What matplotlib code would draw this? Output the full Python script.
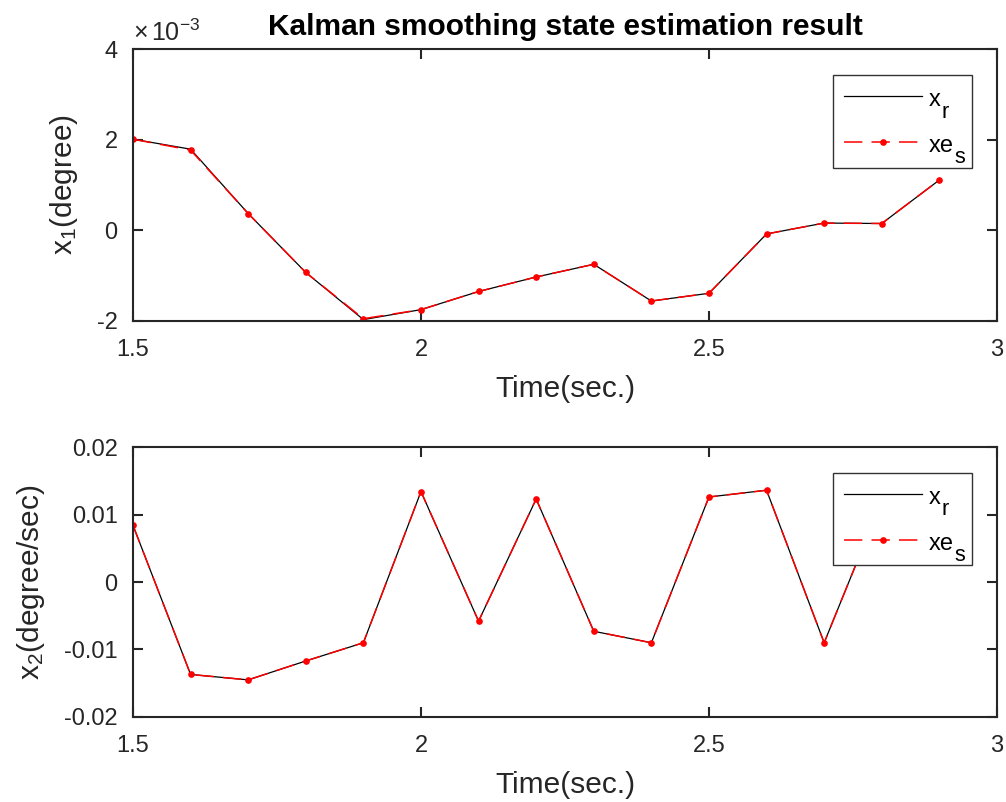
import matplotlib
matplotlib.use("Agg")
import matplotlib.pyplot as plt
from matplotlib.ticker import FuncFormatter
from matplotlib.font_manager import FontProperties

plt.rcParams['font.family'] = ['Liberation Sans', 'DejaVu Sans']
plt.rcParams['mathtext.fontset'] = 'custom'
plt.rcParams['mathtext.rm'] = 'Liberation Sans'
plt.rcParams['mathtext.it'] = 'Liberation Sans'
plt.rcParams['mathtext.bf'] = 'Liberation Sans:bold'
plt.rcParams['axes.unicode_minus'] = False

# 时间
t = [1.5, 1.6, 1.7, 1.8, 1.9, 2.0, 2.1, 2.2, 2.3, 2.4, 2.5, 2.6, 2.7, 2.8, 2.9]

# 状态1 (degree)
x1_r = [2.01e-3, 1.79e-3, 0.37e-3, -0.93e-3, -1.97e-3, -1.75e-3, -1.35e-3, -1.03e-3,
        -0.75e-3, -1.56e-3, -1.39e-3, -0.08e-3, 0.16e-3, 0.15e-3, 1.11e-3]
x1_s = [2.01e-3, 1.77e-3, 0.37e-3, -0.93e-3, -1.95e-3, -1.75e-3, -1.35e-3, -1.03e-3,
        -0.75e-3, -1.56e-3, -1.39e-3, -0.08e-3, 0.16e-3, 0.15e-3, 1.11e-3]

# 状态2 (degree/sec)
x2_r = [0.0084, -0.0137, -0.0145, -0.0117, -0.0090, 0.0134, -0.0058, 0.0123,
        -0.0073, -0.0090, 0.0126, 0.0136, -0.0090, 0.0120, 0.0050]
x2_s = [0.0084, -0.0137, -0.0145, -0.0117, -0.0090, 0.0134, -0.0058, 0.0123,
        -0.0073, -0.0090, 0.0126, 0.0136, -0.0090, 0.0120, 0.0050]

# 图例文字 (主体, 下标)
leg_main = ['x', 'xe']
leg_sub = ['r', 's']

xticks = [1.5, 2, 2.5, 3]
y1ticks = [-2e-3, 0, 2e-3, 4e-3]
y2ticks = [-0.02, -0.01, 0, 0.01, 0.02]

fig = plt.figure(figsize=(10.06, 8.02), dpi=100)
ax1 = fig.add_axes([0.1322, 0.5998, 0.8588, 0.3391])
ax2 = fig.add_axes([0.1322, 0.1060, 0.8588, 0.3366])

axcol = '#262626'
tick_fs = 17
label_fs = 21.5
legends = []


def style(ax):
    for s in ax.spines.values():
        s.set_color(axcol)
        s.set_linewidth(1.5)
    ax.tick_params(direction='in', length=7, width=1.5, colors=axcol,
                   labelsize=tick_fs, top=True, right=True)
    ax.tick_params(axis='x', pad=13)
    ax.tick_params(axis='y', pad=11)
    ax.set_xlim(1.5, 3)
    ax.set_xticks(xticks)
    ax.xaxis.set_major_formatter(FuncFormatter(lambda v, p: '%g' % v))
    ax.set_xlabel('Time(sec.)', fontsize=label_fs, color=axcol, labelpad=10)


def draw(ax, xr, xs):
    l1, = ax.plot(t, xr, color='black', lw=0.9)
    l2, = ax.plot(t, xs, color='red', lw=1.1, dashes=(12, 6), marker='o',
                  markersize=3.8)
    # expand 模式: 固定图例宽度, 给下标留位置
    leg = ax.legend([l1, l2], leg_main, loc='upper right',
                    bbox_to_anchor=(0.8102, 0.5, 0.1609, 0.404), mode='expand',
                    fontsize=tick_fs, fancybox=False, framealpha=1,
                    edgecolor='#333333', handlelength=3.3, handleheight=1.25,
                    borderpad=0.45, labelspacing=0.86, handletextpad=0.3,
                    borderaxespad=0)
    leg.get_frame().set_linewidth(1.0)
    legends.append(leg)


draw(ax1, x1_r, x1_s)
style(ax1)
ax1.set_ylim(-2e-3, 4e-3)
ax1.set_yticks(y1ticks)
ax1.yaxis.set_major_formatter(FuncFormatter(lambda v, p: '%g' % round(v * 1e3, 6)))
ax1.set_ylabel(r'$\mathregular{x_1}$(degree)', fontsize=label_fs, color=axcol, labelpad=12)
ax1.text(0.0, 1.01, r'$\mathregular{\times\,10^{-3}}$', transform=ax1.transAxes,
         fontsize=18, color=axcol, ha='left', va='bottom')
ax1.set_title('Kalman smoothing state estimation result', fontsize=21.5,
              fontweight='bold', pad=10)

draw(ax2, x2_r, x2_s)
style(ax2)
ax2.set_ylim(-0.02, 0.02)
ax2.set_yticks(y2ticks)
ax2.yaxis.set_major_formatter(FuncFormatter(lambda v, p: '%g' % round(v, 6)))
ax2.set_ylabel(r'$\mathregular{x_2}$(degree/sec)', fontsize=label_fs, color=axcol, labelpad=12)

# 手动放置图例下标 (MATLAB 风格, 下沉较多)
fig.canvas.draw()
r = fig.canvas.get_renderer()
fp = FontProperties(family=['Liberation Sans', 'DejaVu Sans'], size=tick_fs)
lp_d = r.get_text_width_height_descent('lp', fp, ismath=False)[2]
W, H = fig.bbox.width, fig.bbox.height
for leg in legends:
    for txt, m, s in zip(leg.get_texts(), leg_main, leg_sub):
        bb = txt.get_window_extent(r)
        base = bb.y0 + lp_d
        fig.text((bb.x1 + 1) / W, (base - 11.5) / H, s, fontsize=tick_fs * 0.92,
                 ha='left', va='baseline', color='black')

fig.savefig('out.png', dpi=100)
